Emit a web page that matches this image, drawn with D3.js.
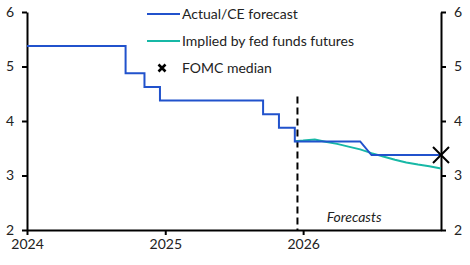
<!DOCTYPE html>
<html>
<head>
<meta charset="utf-8">
<script src="https://cdn.jsdelivr.net/npm/d3@7"></script>
<style>
  body { margin: 0; background: #fff; }
  svg text { font-family: Lato, "Noto Sans", sans-serif; }
</style>
</head>
<body>
<svg id="chart" width="470" height="265"></svg>
<script>
// Fed funds rate (mid-point of target range), %
const actualDates = ["2024-01-01", "2024-09-18", "2024-09-18", "2024-11-07", "2024-11-07",
  "2024-12-18", "2024-12-18", "2025-09-17", "2025-09-17", "2025-10-29", "2025-10-29",
  "2025-12-10", "2025-12-10", "2026-06-01", "2026-07-01", "2027-01-01"];
const actualValues = [5.375, 5.375, 4.875, 4.875, 4.625, 4.625, 4.375, 4.375, 4.125,
  4.125, 3.875, 3.875, 3.625, 3.625, 3.375, 3.375];

const futuresDates = ["2025-12-10", "2026-01-01", "2026-02-01", "2026-03-01", "2026-04-01",
  "2026-05-01", "2026-06-01", "2026-07-01", "2026-08-01", "2026-09-01", "2026-10-01",
  "2026-11-01", "2026-12-01", "2027-01-01"];
const futuresValues = [3.63, 3.64, 3.66, 3.62, 3.58, 3.53, 3.48, 3.41, 3.35, 3.29, 3.24,
  3.20, 3.17, 3.13];

const fomcDate = "2027-01-01";
const fomcValue = 3.375;

const forecastStart = "2025-12-17";
const yTicks = [2, 3, 4, 5, 6];
const xTicks = ["2024-01-01", "2025-01-01", "2026-01-01"];
const legendLabels = ["Actual/CE forecast", "Implied by fed funds futures", "FOMC median"];

const blue = "#2152cc";
const teal = "#17b8a6";

const parse = d3.timeParse("%Y-%m-%d");
const svg = d3.select("#chart");

const x = d3.scaleTime()
  .domain([parse("2024-01-01"), parse("2027-01-01")])
  .range([27, 441]);
const y = d3.scaleLinear().domain([2, 6]).range([230, 12]);

// axes
const styleAxis = g => {
  g.selectAll("path, line").attr("stroke", "#000").attr("stroke-width", 2);
  g.selectAll("text").attr("fill", "#222").style("font-size", "14px");
};

svg.append("g")
  .attr("transform", "translate(27,0)")
  .call(d3.axisLeft(y).tickValues(yTicks).tickFormat(d3.format("d"))
    .tickSize(5).tickSizeOuter(0).tickPadding(8))
  .call(styleAxis);

svg.append("g")
  .attr("transform", "translate(441,0)")
  .call(d3.axisRight(y).tickValues(yTicks).tickFormat(d3.format("d"))
    .tickSize(5).tickSizeOuter(0).tickPadding(8))
  .call(styleAxis);

svg.append("g")
  .attr("transform", "translate(0,230)")
  .call(d3.axisBottom(x).tickValues(xTicks.map(parse)).tickFormat(d3.timeFormat("%Y"))
    .tickSize(5).tickSizeOuter(0).tickPadding(4))
  .call(styleAxis);

// forecast divider
svg.append("line")
  .attr("x1", x(parse(forecastStart))).attr("x2", x(parse(forecastStart)))
  .attr("y1", y(4.45)).attr("y2", y(2))
  .attr("stroke", "#000").attr("stroke-width", 2)
  .attr("stroke-dasharray", "7,4");

svg.append("text")
  .attr("x", x(parse("2026-05-16")))
  .attr("y", y(2) - 8)
  .attr("text-anchor", "middle")
  .attr("fill", "#222")
  .style("font-size", "14px")
  .style("font-style", "italic")
  .text("Forecasts");

// series
const line = d3.line().x(d => x(d[0])).y(d => y(d[1]));

svg.append("path")
  .datum(futuresDates.map((d, i) => [parse(d), futuresValues[i]]))
  .attr("d", line)
  .attr("fill", "none").attr("stroke", teal).attr("stroke-width", 2);

svg.append("path")
  .datum(actualDates.map((d, i) => [parse(d), actualValues[i]]))
  .attr("d", line)
  .attr("fill", "none").attr("stroke", blue).attr("stroke-width", 2);

// FOMC median cross
const cross = (cx, cy, r, w) => {
  svg.append("path")
    .attr("d", `M${cx - r},${cy - r}L${cx + r},${cy + r}M${cx - r},${cy + r}L${cx + r},${cy - r}`)
    .attr("stroke", "#000").attr("stroke-width", w).attr("fill", "none");
};
cross(x(parse(fomcDate)), y(fomcValue), 8, 2);

// legend
const legendY = [14, 41, 68];
[blue, teal].forEach((c, i) => {
  svg.append("line")
    .attr("x1", 147).attr("x2", 180)
    .attr("y1", legendY[i]).attr("y2", legendY[i])
    .attr("stroke", c).attr("stroke-width", 2);
});
cross(162, legendY[2], 3.5, 2.6);

legendLabels.forEach((t, i) => {
  svg.append("text")
    .attr("x", 182)
    .attr("y", legendY[i])
    .attr("dy", "0.35em")
    .attr("fill", "#222")
    .style("font-size", "14px")
    .text(t);
});
</script>
</body>
</html>
